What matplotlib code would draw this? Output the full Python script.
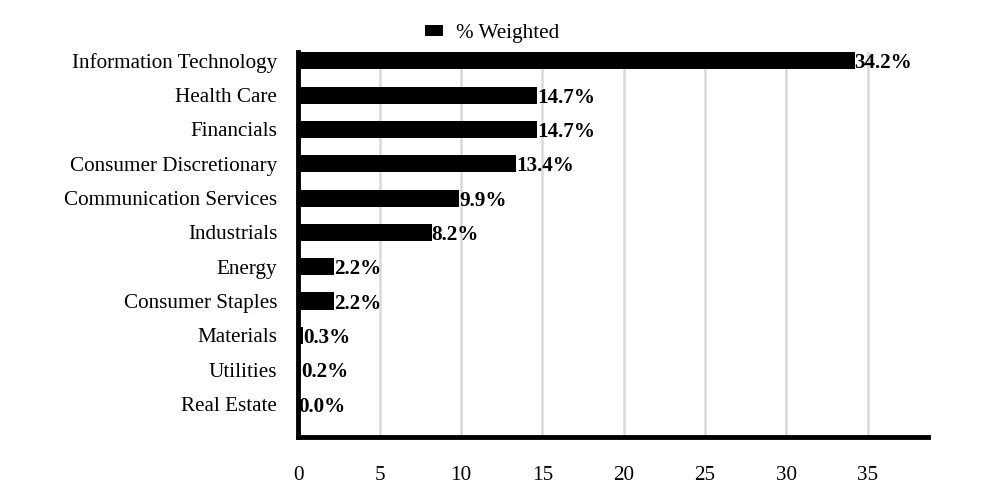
import matplotlib
matplotlib.use("Agg")
import matplotlib.pyplot as plt

sectors = ["Information Technology", "Health Care", "Financials",
           "Consumer Discretionary", "Communication Services", "Industrials",
           "Energy", "Consumer Staples", "Materials", "Utilities", "Real Estate"]
weights = [34.2, 14.7, 14.7, 13.4, 9.9, 8.2, 2.2, 2.2, 0.3, 0.2, 0.0]
xticks = [0, 5, 10, 15, 20, 25, 30, 35]

plt.rcParams['font.family'] = ['Liberation Serif', 'DejaVu Serif']
fs = 15.2

fig = plt.figure(figsize=(9.84, 5.04), dpi=100)
ax = fig.add_axes([0.303, 0.133, 0.640, 0.764])

pos = list(range(len(sectors)))
ax.barh(pos, weights, height=0.5, color='black', label='% Weighted', zorder=3)

for p, w in zip(pos, weights):
    ax.text(w, p, f"{w:.1f}%", va='center_baseline', ha='left', fontsize=fs,
            fontweight='bold', zorder=4)

ax.set_yticks(pos)
ax.set_yticklabels(sectors, fontsize=fs)
ax.set_ylim(10.96, -0.26)
ax.set_xlim(0, 38.7)
ax.set_xticks(xticks)
ax.set_xticklabels([str(t) for t in xticks], fontsize=fs)
ax.tick_params(axis='both', length=0)
ax.tick_params(axis='x', pad=21)
ax.tick_params(axis='y', pad=15)

ax.grid(axis='x', color='#d9d9d9', linewidth=1.8, zorder=0)
ax.set_axisbelow(True)
for s in ['top', 'right']:
    ax.spines[s].set_visible(False)
ax.spines['left'].set_linewidth(3.5)
ax.spines['bottom'].set_linewidth(3.5)

fig.legend(loc='upper center', bbox_to_anchor=(0.5, 0.99), frameon=False,
           fontsize=fs, handlelength=0.85, handleheight=0.4, handletextpad=0.6)

fig.savefig("out.png", dpi=100)
